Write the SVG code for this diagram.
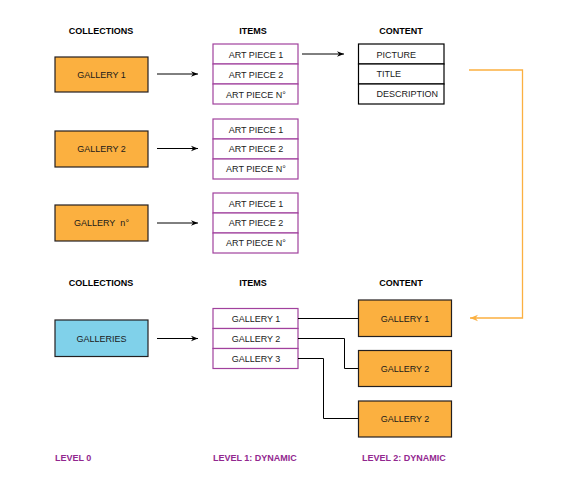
<svg xmlns="http://www.w3.org/2000/svg" width="564" height="499" viewBox="0 0 564 499">
<defs>
<marker id="ah" viewBox="0 0 10 10" refX="10" refY="5" markerWidth="7" markerHeight="7" markerUnits="userSpaceOnUse" orient="auto"><path d="M0,1 L10,5 L0,9 L3,5 Z" fill="#000"/></marker>
<marker id="ao" viewBox="0 0 10 10" refX="10" refY="5" markerWidth="8" markerHeight="8" markerUnits="userSpaceOnUse" orient="auto"><path d="M0,1 L10,5 L0,9 L3,5 Z" fill="#FBB040"/></marker>
<style>
text{font-family:"Liberation Sans",Arial,sans-serif;font-size:9px;fill:#1a1a1a}
.h{font-weight:bold;fill:#000}
.lv{font-weight:bold;fill:#92278F}
.c{text-anchor:middle}
.org{fill:#FBB040;stroke:#231F20;stroke-width:1.2}
.blu{fill:#80D1EA;stroke:#231F20;stroke-width:1.2}
.itm{fill:#fff;stroke:#A1419D;stroke-width:1.2}
.cnt{fill:#fff;stroke:#000;stroke-width:1.2}
.ln{fill:none;stroke:#000;stroke-width:1}
.ol{fill:none;stroke:#FBB040;stroke-width:1.3}
</style>
</defs>
<g id="headers">
<text class="h c" x="101" y="34">COLLECTIONS</text>
<text class="h c" x="253" y="34">ITEMS</text>
<text class="h c" x="401" y="34">CONTENT</text>
<text class="h c" x="101" y="286">COLLECTIONS</text>
<text class="h c" x="253" y="286">ITEMS</text>
<text class="h c" x="401" y="286">CONTENT</text>
</g>
<g id="gallery1"><rect class="org" x="55" y="57" width="93" height="35"/><text class="c" x="101.5" y="77.5">GALLERY 1</text></g>
<g id="gallery2"><rect class="org" x="55" y="131" width="93" height="36"/><text class="c" x="101.5" y="152">GALLERY 2</text></g>
<g id="galleryn"><rect class="org" x="55" y="205" width="93" height="36"/><text class="c" x="101.5" y="226">GALLERY&#160; n°</text></g>
<g id="items1">
<rect class="itm" x="213" y="44" width="85" height="20"/><rect class="itm" x="213" y="64" width="85" height="20"/><rect class="itm" x="213" y="84" width="85" height="20"/>
<text class="c" x="256" y="57.5">ART PIECE 1</text><text class="c" x="256" y="77.5">ART PIECE 2</text><text class="c" x="256" y="97.5">ART PIECE N°</text>
</g>
<g id="items2">
<rect class="itm" x="213" y="119" width="85" height="20"/><rect class="itm" x="213" y="139" width="85" height="20"/><rect class="itm" x="213" y="159" width="85" height="20"/>
<text class="c" x="256" y="132.5">ART PIECE 1</text><text class="c" x="256" y="152">ART PIECE 2</text><text class="c" x="256" y="172">ART PIECE N°</text>
</g>
<g id="items3">
<rect class="itm" x="213" y="193" width="85" height="20"/><rect class="itm" x="213" y="213" width="85" height="20"/><rect class="itm" x="213" y="233" width="85" height="20"/>
<text class="c" x="256" y="206.5">ART PIECE 1</text><text class="c" x="256" y="226">ART PIECE 2</text><text class="c" x="256" y="246">ART PIECE N°</text>
</g>
<g id="content">
<rect class="cnt" x="358.5" y="44" width="85.5" height="20"/><rect class="cnt" x="358.5" y="64" width="85.5" height="20"/><rect class="cnt" x="358.5" y="84" width="85.5" height="20"/>
<text x="376.5" y="57.5">PICTURE</text><text x="376.5" y="77">TITLE</text><text x="376.5" y="97">DESCRIPTION</text>
</g>
<g id="galleries"><rect class="blu" x="55" y="320" width="93" height="36.5"/><text class="c" x="101.5" y="341.5">GALLERIES</text></g>
<g id="items4">
<rect class="itm" x="213" y="308.5" width="85" height="20"/><rect class="itm" x="213" y="328.5" width="85" height="20"/><rect class="itm" x="213" y="348.5" width="85" height="20"/>
<text class="c" x="256" y="321.5">GALLERY 1</text><text class="c" x="256" y="341.5">GALLERY 2</text><text class="c" x="256" y="361.5">GALLERY 3</text>
</g>
<g id="content-g1"><rect class="org" x="358.5" y="300" width="93" height="36.5"/><text class="c" x="405" y="321.5">GALLERY 1</text></g>
<g id="content-g2"><rect class="org" x="358.5" y="350.5" width="93" height="36"/><text class="c" x="405" y="371.5">GALLERY 2</text></g>
<g id="content-g3"><rect class="org" x="358.5" y="401" width="93" height="36"/><text class="c" x="405" y="421.5">GALLERY 2</text></g>
<g id="levels">
<text class="lv" x="55" y="461">LEVEL 0</text>
<text class="lv" x="213" y="461">LEVEL 1: DYNAMIC</text>
<text class="lv" x="362" y="461">LEVEL 2: DYNAMIC</text>
</g>
<g id="connectors">
<line class="ln" x1="157" y1="74" x2="198" y2="74" marker-end="url(#ah)"/>
<line class="ln" x1="157" y1="148.5" x2="198" y2="148.5" marker-end="url(#ah)"/>
<line class="ln" x1="157" y1="223" x2="198" y2="223" marker-end="url(#ah)"/>
<line class="ln" x1="302" y1="54" x2="344" y2="54" marker-end="url(#ah)"/>
<line class="ln" x1="157" y1="338.5" x2="198" y2="338.5" marker-end="url(#ah)"/>
<path class="ln" d="M298,318.5 H358.5"/>
<path class="ln" d="M298,338.5 H344.5 V368.5 H358.5"/>
<path class="ln" d="M298,358.5 H323.5 V418.5 H358.5"/>
<path class="ol" d="M469,70 H522.5 V318 H470" marker-end="url(#ao)"/>
</g>
</svg>
